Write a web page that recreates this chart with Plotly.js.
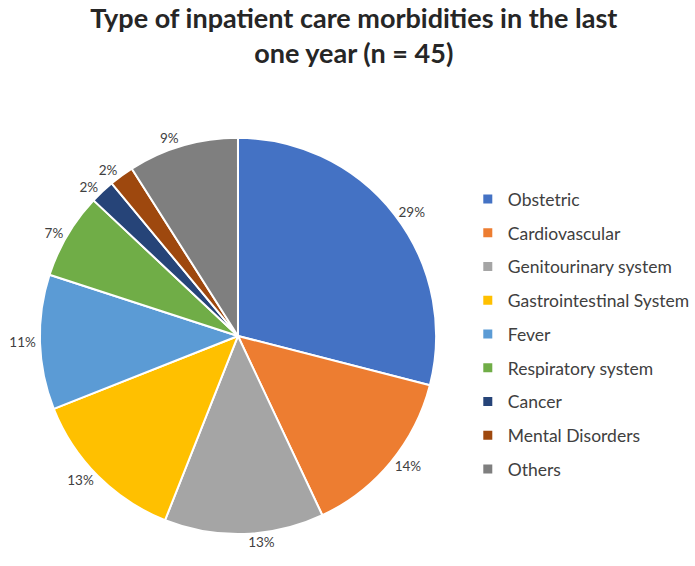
<!DOCTYPE html>
<html><head><meta charset="utf-8">
<script src="https://cdn.plot.ly/plotly-3.0.1.min.js"></script>
<style>html,body{margin:0;padding:0;background:#fff}#chart{width:695px;height:566px}</style>
</head><body><div id="chart"></div>
<script>
const categories = ["Obstetric","Cardiovascular","Genitourinary system","Gastrointestinal System","Fever","Respiratory system","Cancer","Mental Disorders","Others"];
const percentages = [29,14,13,13,11,7,2,2,9];
const colors = ["#4472C4","#ED7D31","#A5A5A5","#FFC000","#5B9BD5","#70AD47","#264478","#9E480E","#7F7F7F"];
const labelTexts = percentages.map(v => v + "%");

const pieTrace = {
  type: "pie",
  labels: categories,
  values: percentages,
  text: labelTexts,
  textinfo: "text",
  textposition: "outside",
  sort: false,
  direction: "clockwise",
  rotation: 0,
  showlegend: false,
  marker: {colors: colors, line: {color: "#ffffff", width: 2}},
  outsidetextfont: {family: "Lato, sans-serif", size: 13.5, color: "#404040"},
  domain: {x: [0.0576, 0.6302], y: [0.0548, 0.7580]},
  hoverinfo: "label+percent"
};

// legend entries (one per category, no visible data)
const legendTraces = categories.map((name, i) => ({
  type: "scatter",
  mode: "markers",
  x: [null], y: [null],
  name: name,
  legendgroup: name,
  showlegend: true,
  marker: {symbol: "square", size: 9, color: colors[i]},
  hoverinfo: "skip"
}));

const layout = {
  width: 695, height: 566,
  margin: {l: 0, r: 0, t: 0, b: 0},
  paper_bgcolor: "#ffffff",
  plot_bgcolor: "rgba(0,0,0,0)",
  xaxis: {visible: false},
  yaxis: {visible: false},
  title: {
    text: "<b>Type of inpatient care morbidities in the last<br>one year (n = 45)</b>",
    font: {family: "Lato, sans-serif", size: 27, color: "#262626"},
    x: 0.509, xanchor: "center", y: 0.95, yanchor: "top"
  },
  showlegend: true,
  legend: {
    x: 0.676, xanchor: "left", y: 0.68, yanchor: "top",
    font: {family: "Lato, sans-serif", size: 17.5, color: "#404040"},
    traceorder: "grouped",
    itemwidth: 30,
    tracegroupgap: 8
  }
};

Plotly.newPlot("chart", [pieTrace, ...legendTraces], layout, {displayModeBar: false, staticPlot: true});
</script></body></html>
